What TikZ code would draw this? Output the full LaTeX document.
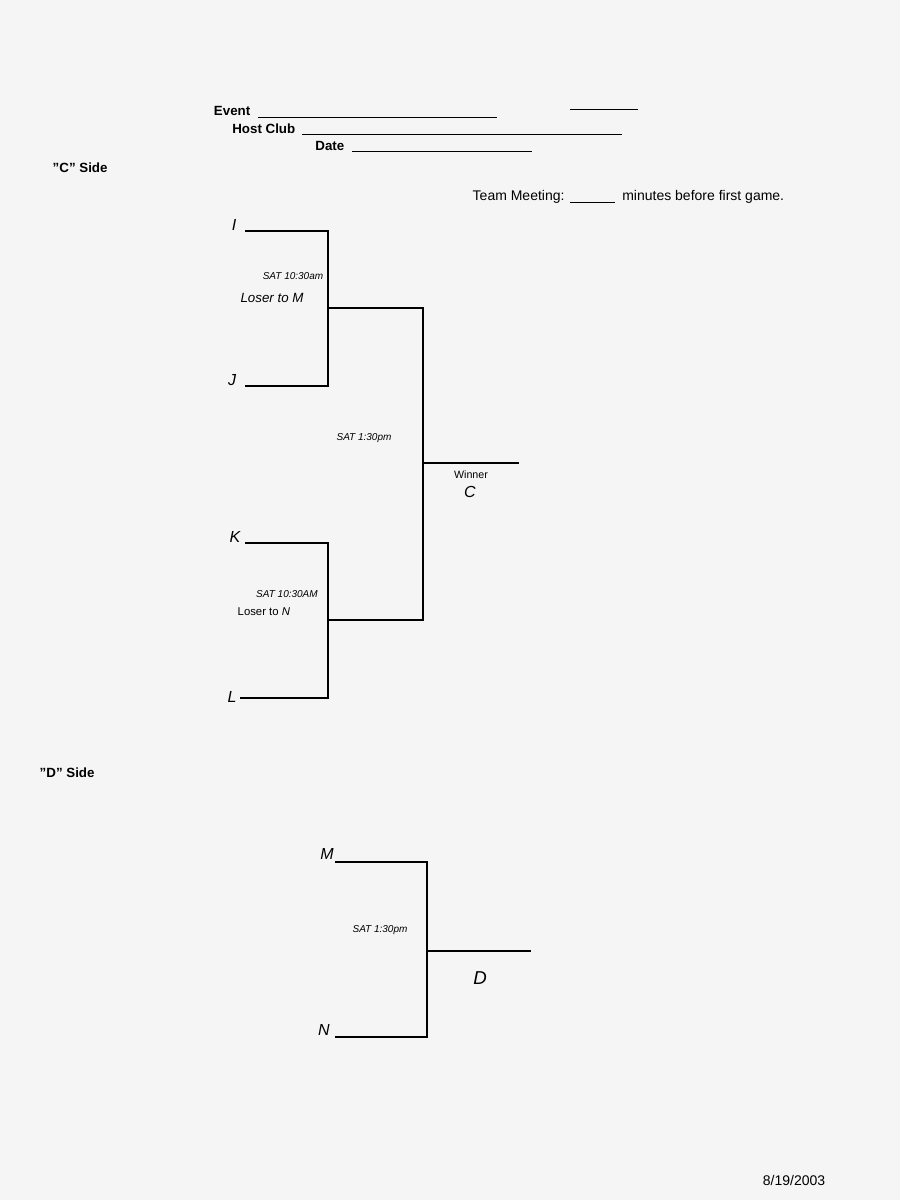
\documentclass[tikz,border=0pt]{standalone}
\usepackage{fontspec}
\setmainfont{Liberation Sans}
\begin{document}
\begin{tikzpicture}[x=0.75pt,y=-0.75pt,
  ln/.style={line width=0.9pt,black},
  lab/.style={font=\fontsize{10.5}{12}\selectfont},
  bold/.style={font=\bfseries\fontsize{10}{12}\selectfont},
  hand/.style={font=\itshape\fontsize{7.5}{8}\selectfont},
  big/.style={font=\itshape\fontsize{12}{14}\selectfont}]
\fill[gray!8] (0,0) rectangle (900,1200);
\useasboundingbox (0,0) rectangle (900,1200);
% header
\node[bold,anchor=east] (ev) at (255,111) {Event};
\draw[ln,line width=0.6pt] (258,117) -- (497,117);
\draw[ln,line width=0.6pt] (570,109) -- (638,109);
\node[bold,anchor=east] (hc) at (300,129) {Host Club};
\draw[ln,line width=0.6pt] (302,134) -- (622,134);
\node[bold,anchor=east] (dt) at (349,146) {Date};
\draw[ln,line width=0.6pt] (352,151) -- (532,151);
\node[bold,anchor=west] (cs) at (48,168) {\symbol{34}C\symbol{34} Side};
\node[lab,anchor=west] (tm) at (468,197) {Team Meeting: \underline{\hspace{3.2em}} \ minutes before first game.};
% C bracket
\coordinate (i1) at (245,231); \coordinate (i2) at (328,231);
\coordinate (j1) at (245,386); \coordinate (j2) at (328,386);
\coordinate (m1) at (328,308); \coordinate (m2) at (423,308);
\coordinate (k1) at (245,543); \coordinate (k2) at (328,543);
\coordinate (l1) at (240,698); \coordinate (l2) at (328,698);
\coordinate (n1) at (328,620); \coordinate (n2) at (423,620);
\coordinate (w1) at (423,463); \coordinate (w2) at (519,463);
\draw[ln] (i1) -- (i2) -- (j2) -- (j1);
\draw[ln] (k1) -- (k2) -- (l2) -- (l1);
\draw[ln] (m1) -- (m2) -- (n2) -- (n1);
\draw[ln] (w1) -- (w2);
\node[big] (I) at (234,225) {I};
\node[big] (J) at (232,380) {J};
\node[big] (K) at (235,537) {K};
\node[big] (L) at (232,697) {L};
\node[font=\fontsize{8}{9}\selectfont] (win) at (471,475) {Winner};
\node[big] (C) at (470,492) {C};
\node[hand] (s1) at (293,276) {SAT 10:30am};
\node[font=\itshape\fontsize{10}{11}\selectfont] (lm) at (272,298) {Loser to M};
\node[hand] (s2) at (364,438) {SAT 1:30pm};
\node[hand] (s3) at (287,594) {SAT 10:30AM};
\node[font=\fontsize{8.5}{9}\selectfont,anchor=west] (ln2) at (233,612) {Loser to \textit{N}};
% D bracket
\node[bold,anchor=west] (ds) at (35,773) {\symbol{34}D\symbol{34} Side};
\coordinate (ma) at (335,862); \coordinate (mb) at (427,862);
\coordinate (na) at (335,1037); \coordinate (nb) at (427,1037);
\coordinate (da) at (427,951); \coordinate (db) at (531,951);
\draw[ln] (ma) -- (mb) -- (nb) -- (na);
\draw[ln] (da) -- (db);
\node[big] (M) at (327,854) {M};
\node[big] (N) at (324,1030) {N};
\node[hand] (s4) at (380,930) {SAT 1:30pm};
\node[big,font=\itshape\fontsize{14}{16}\selectfont] (D) at (480,978) {D};
\node[lab] (date) at (794,1180) {8/19/2003};
\end{tikzpicture}
\end{document}
